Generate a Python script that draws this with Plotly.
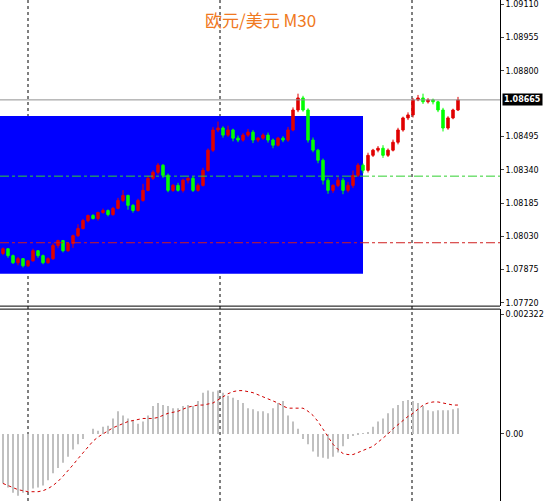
import plotly.graph_objects as go

# candle closes, EURUSD M30
closes = [1.07972, 1.07940, 1.07907, 1.07926, 1.07893, 1.07916, 1.07963, 1.07940, 1.07907, 1.07926,
          1.07987, 1.08010, 1.07963, 1.07996, 1.08033, 1.08066, 1.08103, 1.08127, 1.08113, 1.08141,
          1.08150, 1.08131, 1.08160, 1.08197, 1.08220, 1.08174, 1.08150, 1.08197, 1.08244, 1.08300,
          1.08328, 1.08361, 1.08314, 1.08244, 1.08267, 1.08244, 1.08291, 1.08300, 1.08244, 1.08267,
          1.08337, 1.08431, 1.08525, 1.08534, 1.08501, 1.08525, 1.08487, 1.08478, 1.08501, 1.08515,
          1.08478, 1.08487, 1.08501, 1.08478, 1.08454, 1.08487, 1.08478, 1.08525, 1.08618, 1.08674,
          1.08618, 1.08478, 1.08431, 1.08384, 1.08291, 1.08244, 1.08267, 1.08291, 1.08244, 1.08267,
          1.08314, 1.08361, 1.08337, 1.08407, 1.08431, 1.08440, 1.08407, 1.08431, 1.08468, 1.08525,
          1.08581, 1.08595, 1.08665, 1.08674, 1.08656, 1.08665, 1.08656, 1.08618, 1.08534, 1.08581,
          1.08618, 1.08665]
first_open = 1.07950
# wick sizes in 1e-5
up_wick = [6, 3, 5, 8, 2, 4, 9, 3, 5, 6, 10, 4, 3, 7, 5, 20, 8, 4, 6, 3,
           9, 5, 7, 12, 25, 4, 6, 8, 30, 12, 9, 10, 5, 8, 6, 12, 7, 5, 9, 10,
           12, 8, 14, 30, 8, 20, 6, 12, 9, 15, 10, 5, 8, 12, 7, 6, 9, 14, 12, 20,
           10, 8, 12, 6, 8, 10, 5, 14, 10, 16, 22, 10, 8, 12, 6, 10, 14, 8, 12, 10,
           6, 12, 8, 14, 20, 8, 6, 5, 10, 8, 6, 14]
low_wick = [8, 10, 6, 12, 8, 6, 4, 10, 7, 5, 6, 12, 8, 5, 20, 6, 4, 8, 5, 10,
            6, 8, 5, 4, 8, 20, 10, 5, 6, 4, 8, 10, 12, 9, 7, 6, 10, 15, 8, 6,
            5, 6, 8, 10, 12, 8, 15, 10, 7, 8, 14, 10, 8, 12, 14, 6, 10, 8, 6, 10,
            8, 12, 10, 14, 20, 16, 12, 8, 18, 10, 12, 8, 14, 10, 8, 10, 12, 8, 6, 10,
            8, 10, 12, 6, 10, 8, 12, 10, 16, 8, 6, 5]
# MACD histogram and signal, 1e-5
macd_hist = [-96, -104, -114, -120, -114, -110, -106, -104, -100, -90, -76, -66, -56, -44, -30, -20, -10, 0, 10, 6,
             14, 16, 30, 44, 36, 30, 26, 20, 24, 36, 54, 60, 56, 54, 50, 50, 54, 56, 54, 64,
             80, 84, 82, 84, 80, 74, 70, 66, 60, 50, 48, 44, 44, 40, 50, 60, 64, 36, 24, 10,
             -10, -20, -34, -44, -46, -48, -44, -36, -24, -10, -4, -2, 1, 4, 14, 24, 30, 40, 50, 56,
             64, 66, 64, 60, 54, 46, 44, 46, 46, 46, 48, 50]
macd_signal = [-96, -100, -104, -108, -110, -112, -112, -112, -110, -106, -100, -92, -82, -72, -60, -48, -36, -24, -14, -6,
               0, 6, 12, 16, 20, 24, 26, 28, 30, 30, 30, 32, 36, 40, 42, 44, 48, 52, 54, 56,
               56, 58, 60, 66, 72, 78, 82, 84, 84, 82, 80, 76, 72, 68, 64, 60, 54, 50, 50, 50,
               50, 44, 36, 24, 10, -6, -20, -30, -38, -40, -40, -36, -32, -28, -24, -16, -8, 0, 10, 18,
               26, 34, 40, 48, 56, 60, 62, 62, 60, 58, 56, 56]

idx = list(range(len(closes)))
opens = [first_open] + closes[:-1]
highs = [max(o, c) + w * 1e-5 for o, c, w in zip(opens, closes, up_wick)]
lows = [min(o, c) - w * 1e-5 for o, c, w in zip(opens, closes, low_wick)]

fig = go.Figure()
fig.add_trace(go.Candlestick(x=idx, open=opens, high=highs, low=lows, close=closes,
                             increasing=dict(line=dict(color="#e00000", width=1), fillcolor="#e00000"),
                             decreasing=dict(line=dict(color="#00ff00", width=1), fillcolor="#00ff00"),
                             whiskerwidth=0, xaxis="x", yaxis="y"))
fig.add_trace(go.Bar(x=idx, y=[v * 1e-5 for v in macd_hist], marker_color="#c0c0c0",
                     marker_line_width=0, width=0.3, xaxis="x2", yaxis="y2"))
fig.add_trace(go.Scatter(x=idx, y=[v * 1e-5 for v in macd_signal], mode="lines",
                         line=dict(color="#d00000", width=1, dash="dot"), xaxis="x2", yaxis="y2"))

xr = [-0.6, 99.4]
fig.update_layout(
    width=551, height=501, margin=dict(l=0, r=51, t=0, b=0, autoexpand=False),
    paper_bgcolor="white", plot_bgcolor="white", showlegend=False,
    font=dict(family="DejaVu Sans", size=8, color="black"),
    xaxis=dict(range=xr, domain=[0, 1], showticklabels=False, showgrid=False, zeroline=False,
               rangeslider=dict(visible=False), anchor="y"),
    xaxis2=dict(range=xr, domain=[0, 1], showticklabels=False, showgrid=False, zeroline=False, anchor="y2"),
    yaxis=dict(domain=[0.389, 1], range=[1.07705, 1.09130], side="right", showgrid=False, zeroline=False,
               tickvals=[1.09110, 1.08955, 1.08800, 1.08495, 1.08340, 1.08185, 1.08030, 1.07875, 1.07720],
               tickformat=".5f", ticks="outside", ticklen=3, showline=True, linecolor="black", mirror=False),
    yaxis2=dict(domain=[0, 0.383], range=[-0.00130, 0.00242], side="right", showgrid=False, zeroline=False,
                tickvals=[0.002322, 0], ticktext=["0.002322", "0.00"], ticks="outside", ticklen=3,
                showline=True, linecolor="black", anchor="x2"),
)

shapes = [
    dict(type="rect", xref="x", yref="y", x0=-0.6, x1=72, y0=1.07856, y1=1.08590,
         fillcolor="#0000ff", line_width=0, layer="below"),
    dict(type="line", xref="paper", yref="y", x0=0, x1=1, y0=1.08665, y1=1.08665,
         line=dict(color="#909090", width=1)),
    dict(type="line", xref="paper", yref="y", x0=0, x1=1, y0=1.08310, y1=1.08310,
         line=dict(color="#30d030", width=1, dash="dashdot")),
    dict(type="line", xref="paper", yref="y", x0=0, x1=1, y0=1.08000, y1=1.08000,
         line=dict(color="#d02020", width=1, dash="dashdot")),
    dict(type="line", xref="paper", yref="paper", x0=0, x1=1, y0=0.389, y1=0.389,
         line=dict(color="black", width=1)),
    dict(type="line", xref="paper", yref="paper", x0=0, x1=1, y0=0.383, y1=0.383,
         line=dict(color="black", width=1)),
]
for xv in [5.0, 43.4, 81.8]:
    shapes.append(dict(type="line", xref="x", yref="paper", x0=xv, x1=xv, y0=0, y1=1,
                       line=dict(color="black", width=1, dash="dot"), layer="below"))
fig.update_layout(shapes=shapes)

fig.add_annotation(text="欧元/美元 M30", xref="paper", yref="paper", x=0.52, y=0.99,
                   xanchor="center", yanchor="top", showarrow=False,
                   font=dict(family="Noto Sans CJK SC", size=17, color="#f07820"))
fig.add_annotation(text="<b>1.08665</b>", xref="paper", yref="y", x=1.0, y=1.08665, xanchor="left",
                   showarrow=False, bgcolor="black", font=dict(color="white", size=8), xshift=2)

fig.write_html("out.html", config={"displayModeBar": False},
               post_script="document.body.style.margin='0';")
